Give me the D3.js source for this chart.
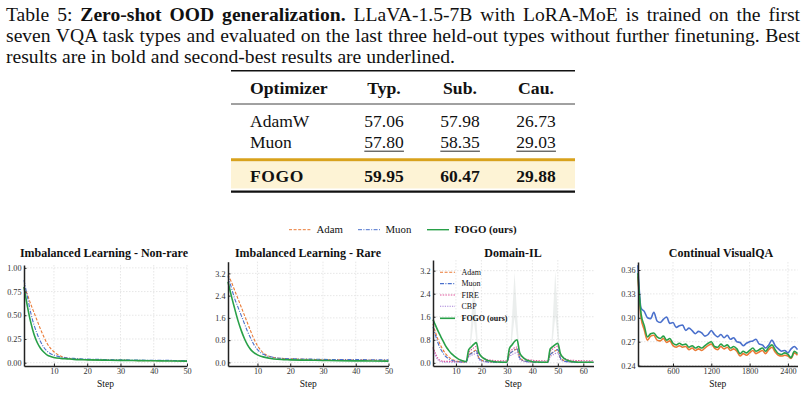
<!DOCTYPE html>
<html lang="en">
<head>
<meta charset="utf-8">
<title>Zero-shot OOD generalization</title>
<script src="https://d3js.org/d3.v7.min.js"></script>
<style>
    body{ margin:0; background:#fff; }
    svg text{ font-family:"Liberation Serif","Times New Roman",serif; fill:#111; }
    .grid line{ stroke:#dcdcdc; stroke-dasharray:1.5,1.5; stroke-width:0.7; }
    .axis path, .axis line{ stroke:#222; }
    .axis text{ font-size:8.2px; fill:#333; }
    .line{ fill:none; }
</style>
</head>
<body>
<svg id="fig" width="806" height="395"></svg>
<script>
// ---- table data ----
var tableCols = ['Optimizer', 'Typ.', 'Sub.', 'Cau.'];
var tableRows = ['AdamW', 'Muon', 'FOGO'];
var typVals = ['57.06', '57.80', '59.95'];
var subVals = ['57.98', '58.35', '60.47'];
var cauVals = ['26.73', '29.03', '29.88'];

// ---- imbalanced learning, non-rare ----
var nrSteps = [1,2,3,4,5,6,7,8,9,10,12,14,16,18,20,25,30,35,40,45,50];
var nrAdam  = [0.79,0.72,0.62,0.53,0.44,0.35,0.27,0.20,0.15,0.115,0.07,0.05,0.04,0.035,0.032,0.028,0.025,0.022,0.02,0.02,0.018];
var nrMuon  = [0.87,0.70,0.53,0.40,0.30,0.22,0.16,0.12,0.095,0.08,0.06,0.05,0.045,0.04,0.038,0.034,0.03,0.028,0.025,0.024,0.022];
var nrFogo  = [0.80,0.60,0.43,0.30,0.21,0.15,0.11,0.08,0.065,0.055,0.045,0.04,0.035,0.032,0.03,0.027,0.024,0.022,0.02,0.018,0.016];

// ---- imbalanced learning, rare ----
var rSteps = [1,2,3,4,5,6,7,8,9,10,11,12,14,16,18,20,25,30,35,40,45,50];
var rAdam  = [3.15,2.9,2.6,2.3,2.0,1.7,1.4,1.1,0.82,0.6,0.44,0.32,0.2,0.16,0.14,0.13,0.11,0.1,0.09,0.085,0.08,0.075];
var rMuon  = [3.1,2.7,2.3,2.0,1.7,1.4,1.1,0.85,0.62,0.46,0.35,0.28,0.2,0.16,0.14,0.13,0.12,0.11,0.1,0.1,0.095,0.09];
var rFogo  = [2.9,2.4,1.95,1.52,1.16,0.86,0.62,0.45,0.34,0.27,0.22,0.19,0.14,0.11,0.1,0.09,0.08,0.07,0.06,0.055,0.05,0.045];

// ---- domain-IL, steps 1..64 ----
var dSteps = d3.range(1, 65);
var dAdam = [1.35,1.05,0.80,0.60,0.44,0.31,0.22,0.15,0.10,0.07,0.05,0.04,0.03,0.03,
             0.28,0.34,0.40,0.44,0.18,0.10,0.06,0.05,0.04,0.03,0.03,0.03,0.02,0.02,0.02,0.02,
             0.30,0.38,0.44,0.48,0.19,0.10,0.06,0.05,0.04,0.03,0.03,0.03,0.02,0.02,0.02,0.02,
             0.28,0.36,0.42,0.46,0.18,0.10,0.06,0.05,0.04,0.03,0.03,0.03,0.02,0.02,0.02,0.02,0.02,0.02];
var dMuon = [1.25,0.95,0.68,0.48,0.33,0.22,0.15,0.10,0.07,0.05,0.04,0.03,0.03,0.02,
             0.25,0.32,0.38,0.42,0.16,0.09,0.06,0.04,0.03,0.03,0.02,0.02,0.02,0.02,0.02,0.02,
             0.30,0.38,0.45,0.48,0.18,0.10,0.06,0.04,0.03,0.03,0.02,0.02,0.02,0.02,0.02,0.02,
             0.28,0.36,0.42,0.46,0.17,0.09,0.05,0.04,0.03,0.03,0.02,0.02,0.02,0.02,0.02,0.02,0.02,0.02];
var dFire = [0.55,0.32,0.15,0.08,0.06,0.05,0.05,0.05,0.05,0.04,0.04,0.04,0.04,0.04,
             0.35,0.45,0.52,0.57,0.32,0.22,0.16,0.12,0.10,0.09,0.08,0.07,0.07,0.07,0.07,0.07,
             0.38,0.46,0.52,0.55,0.30,0.20,0.15,0.12,0.10,0.09,0.08,0.08,0.07,0.07,0.07,0.07,
             0.40,0.48,0.55,0.58,0.30,0.20,0.14,0.11,0.09,0.09,0.08,0.08,0.08,0.07,0.07,0.07,0.07,0.07];
var dCbp  = [0.50,0.25,0.10,0.05,0.03,0.02,0.02,0.02,0.02,0.02,0.02,0.02,0.02,0.02,
             0.20,0.26,0.30,0.33,0.12,0.06,0.04,0.03,0.02,0.02,0.02,0.02,0.02,0.02,0.02,0.02,
             0.22,0.28,0.33,0.36,0.13,0.06,0.04,0.03,0.02,0.02,0.02,0.02,0.02,0.02,0.02,0.02,
             0.21,0.27,0.32,0.35,0.12,0.06,0.04,0.03,0.02,0.02,0.02,0.02,0.02,0.02,0.02,0.02,0.02,0.02];
var dFogo = [1.50,1.30,1.10,0.92,0.75,0.58,0.45,0.34,0.26,0.19,0.13,0.09,0.06,0.04,
             0.45,0.55,0.64,0.70,0.35,0.22,0.15,0.10,0.07,0.05,0.04,0.03,0.03,0.02,0.02,0.02,
             0.50,0.62,0.74,0.80,0.36,0.22,0.14,0.09,0.06,0.04,0.03,0.03,0.02,0.02,0.02,0.02,
             0.48,0.56,0.63,0.68,0.32,0.19,0.12,0.08,0.05,0.04,0.03,0.02,0.02,0.02,0.02,0.02,0.02,0.02];
var spikeSteps = [17, 33, 49];
var spikeTops  = [3.0, 3.15, 3.2];

// ---- continual VisualQA ----
var vqSteps = d3.range(50, 2551, 50);
var vqAdam = [0.352,0.300,0.285,0.272,0.277,0.278,0.272,0.271,0.274,0.269,0.271,0.265,0.263,0.265,0.263,0.264,0.260,
              0.262,0.259,0.261,0.259,0.262,0.265,0.267,0.262,0.260,0.264,0.261,0.263,0.259,0.261,0.258,0.252,0.255,
              0.253,0.256,0.259,0.255,0.257,0.259,0.255,0.260,0.263,0.257,0.253,0.252,0.253,0.252,0.249,0.256,0.253];
var vqMuon = [0.366,0.312,0.308,0.300,0.299,0.307,0.296,0.294,0.298,0.301,0.293,0.294,0.288,0.290,0.291,0.284,0.287,
              0.284,0.280,0.283,0.281,0.277,0.279,0.284,0.279,0.276,0.279,0.275,0.278,0.273,0.275,0.270,0.269,0.265,
              0.268,0.270,0.271,0.273,0.267,0.266,0.262,0.266,0.272,0.265,0.261,0.258,0.259,0.256,0.261,0.264,0.260];
var vqFogo = [0.356,0.305,0.290,0.276,0.280,0.281,0.276,0.274,0.277,0.272,0.274,0.268,0.266,0.268,0.266,0.267,0.263,
              0.265,0.262,0.264,0.262,0.265,0.268,0.270,0.264,0.263,0.267,0.264,0.266,0.262,0.264,0.261,0.255,0.258,
              0.256,0.259,0.262,0.258,0.260,0.262,0.258,0.263,0.266,0.260,0.255,0.254,0.256,0.254,0.250,0.258,0.255];

var colors = {adam:'#ea7a35', muon:'#4a70cc', fire:'#e0559c', cbp:'#a680d8', fogo:'#28a048'};
var dashes = {adam:'3,1.6', muon:'4,1.4,1,1.4', fire:'1.5,1.2', cbp:'1.2,1.2', fogo:null};

var svg = d3.select('#fig');

// ---------- caption ----------
var capLines = [
    [['Table 5: ', false], ['Zero-shot OOD generalization.', true], [' LLaVA-1.5-7B with LoRA-MoE is trained on the first', false]],
    [['seven VQA task types and evaluated on the last three held-out types without further finetuning. Best', false]],
    [['results are in bold and second-best results are underlined.', false]]
];
var capY = [20.5, 41.8, 62.8];
capLines.forEach(function(parts, i){
    var t = svg.append('text')
        .attr('x', 6).attr('y', capY[i])
        .style('font-size', '19.6px');
    parts.forEach(function(p){
        t.append('tspan').text(p[0]).style('font-weight', p[1] ? 'bold' : 'normal');
    });
    if (i < 2){
        // justify the full lines to the text block width
        var full = parts.map(p => p[0]).join('');
        var spaces = full.split(' ').length - 1;
        var w = t.node().getComputedTextLength();
        t.attr('word-spacing', (794 - w) / spaces);
    }
});

// ---------- table ----------
var colX = [250, 384, 460, 536];
var tbl = svg.append('g');
tbl.append('rect').attr('x', 231).attr('y', 161.5).attr('width', 344).attr('height', 27).attr('fill', '#fdf3d5');
tbl.append('line').attr('x1', 231).attr('x2', 575).attr('y1', 70.7).attr('y2', 70.7).attr('stroke', '#111').attr('stroke-width', 1.4);
tbl.append('line').attr('x1', 231).attr('x2', 575).attr('y1', 104).attr('y2', 104).attr('stroke', '#111').attr('stroke-width', 0.8);
tbl.append('line').attr('x1', 231).attr('x2', 575).attr('y1', 159.7).attr('y2', 159.7).attr('stroke', '#d8a21c').attr('stroke-width', 3);
tbl.append('line').attr('x1', 231).attr('x2', 575).attr('y1', 191.6).attr('y2', 191.6).attr('stroke', '#111').attr('stroke-width', 2.2);

tableCols.forEach(function(c, j){
    tbl.append('text').text(c)
        .attr('x', colX[j]).attr('y', 93.8)
        .attr('text-anchor', j === 0 ? 'start' : 'middle')
        .style('font-size', '17.7px').style('font-weight', 'bold');
});
var rowY = [126.8, 148.3, 182.2];
tableRows.forEach(function(r, i){
    var vals = [r, typVals[i], subVals[i], cauVals[i]];
    vals.forEach(function(v, j){
        var t = tbl.append('text').text(v)
            .attr('x', colX[j]).attr('y', rowY[i])
            .attr('text-anchor', j === 0 ? 'start' : 'middle')
            .style('font-size', '17.5px')
            .style('font-weight', i === 2 ? 'bold' : 'normal')
            .style('letter-spacing', i === 2 && j === 0 ? '0.6px' : null);
        if (i === 1 && j > 0){
            var bb = t.node().getBBox();
            tbl.append('line').attr('x1', bb.x).attr('x2', bb.x + bb.width)
                .attr('y1', 151.2).attr('y2', 151.2).attr('stroke', '#111').attr('stroke-width', 0.9);
        }
    });
});

// ---------- top legend ----------
var topLeg = [
    {name:'Adam', key:'adam', x:289},
    {name:'Muon', key:'muon', x:358},
    {name:'FOGO (ours)', key:'fogo', x:427}
];
topLeg.forEach(function(d){
    svg.append('line').attr('x1', d.x).attr('x2', d.x + 22).attr('y1', 229.7).attr('y2', 229.7)
        .attr('stroke', colors[d.key]).attr('stroke-width', d.key === 'fogo' ? 1.4 : 1)
        .attr('stroke-dasharray', dashes[d.key]);
    svg.append('text').text(d.name).attr('x', d.x + 27.5).attr('y', 233.4)
        .style('font-size', '10.8px').style('font-weight', d.key === 'fogo' ? 'bold' : 'normal');
});

// ---------- panels ----------
function panel(cfg){
    var g = svg.append('g');
    var x = d3.scaleLinear().domain(cfg.xDom).range(cfg.xRange);
    var y = d3.scaleLinear().domain(cfg.yDom).range([366, cfg.top]);

    var grid = g.append('g').attr('class', 'grid');
    grid.selectAll('.gx').data(cfg.xTicks).enter().append('line')
        .attr('x1', d => x(d)).attr('x2', d => x(d)).attr('y1', cfg.top).attr('y2', 366);
    grid.selectAll('.gy').data(cfg.yTicks).enter().append('line')
        .attr('x1', cfg.xRange[0]).attr('x2', cfg.xRange[1]).attr('y1', d => y(d)).attr('y2', d => y(d));

    g.append('text').text(cfg.title)
        .attr('x', cfg.titleX).attr('y', 257)
        .attr('text-anchor', 'middle')
        .style('font-size', '12px').style('font-weight', 'bold');
    g.append('text').text('Step')
        .attr('x', (cfg.xRange[0] + cfg.xRange[1]) / 2).attr('y', 387)
        .attr('text-anchor', 'middle').style('font-size', '9.5px');

    if (cfg.before) cfg.before(g, x, y);

    cfg.series.forEach(function(s){
        var line = d3.line().x((d, i) => x(s.steps[i])).y(d => y(d)).curve(d3.curveMonotoneX);
        g.append('path').attr('class', 'line')
            .attr('d', line(s.values))
            .attr('stroke', colors[s.key])
            .attr('stroke-width', s.width || 1.1)
            .attr('stroke-dasharray', s.dash ? dashes[s.key] : null);
    });

    g.append('g').attr('class', 'axis')
        .attr('transform', 'translate(0,366)')
        .call(d3.axisBottom(x).tickValues(cfg.xTicks).tickFormat(d3.format('d')).tickSizeInner(-2.5).tickSizeOuter(0).tickPadding(2.5))
        .call(a => a.select('.domain').attr('stroke-width', 1.5));
    g.append('g').attr('class', 'axis')
        .attr('transform', 'translate(' + cfg.xRange[0] + ',0)')
        .call(d3.axisLeft(y).tickValues(cfg.yTicks).tickFormat(d3.format(cfg.yFmt)).tickSizeInner(-2.5).tickSizeOuter(0).tickPadding(2.5))
        .call(a => a.select('.domain').attr('stroke-width', 1.5));
    return {g:g, x:x, y:y};
}

panel({
    title:'Imbalanced Learning - Non-rare', titleX:104,
    xDom:[1, 50], xRange:[24, 187], yDom:[-0.035, 1.03], top:265,
    xTicks:[10,20,30,40,50], yTicks:[0,0.25,0.5,0.75,1.0], yFmt:'.2f',
    series:[
        {key:'adam', steps:nrSteps, values:nrAdam, dash:true},
        {key:'muon', steps:nrSteps, values:nrMuon, dash:true},
        {key:'fogo', steps:nrSteps, values:nrFogo, width:1.6}
    ]
});

panel({
    title:'Imbalanced Learning - Rare', titleX:308,
    xDom:[1, 50], xRange:[228, 388.5], yDom:[-0.13, 3.62], top:261.7,
    xTicks:[10,20,30,40,50], yTicks:[0,0.8,1.6,2.4,3.2], yFmt:'.1f',
    series:[
        {key:'adam', steps:rSteps, values:rAdam, dash:true},
        {key:'muon', steps:rSteps, values:rMuon, dash:true},
        {key:'fogo', steps:rSteps, values:rFogo, width:1.6}
    ]
});

var dil = panel({
    title:'Domain-IL', titleX:513,
    xDom:[1, 64], xRange:[433, 593.5], yDom:[-0.11, 3.57], top:260,
    xTicks:[10,20,30,40,50,60], yTicks:[0,0.8,1.6,2.4,3.2], yFmt:'.1f',
    before:function(g, x, y){
        // faint spread of the FOGO runs around each task switch
        spikeSteps.forEach(function(s, k){
            var pts = [[s - 1.6, dFogo[s - 2]], [s, spikeTops[k]], [s + 1.6, dFogo[s]]];
            var area = d3.area().x(d => x(d[0])).y0(d => y(d[1] * 0.5)).y1(d => y(d[1]));
            g.append('path').attr('d', area(pts)).attr('fill', '#a3b1ab').attr('opacity', 0.22);
        });
    },
    series:[
        {key:'cbp',  steps:dSteps, values:dCbp, dash:true},
        {key:'fire', steps:dSteps, values:dFire, dash:true},
        {key:'adam', steps:dSteps, values:dAdam, dash:true},
        {key:'muon', steps:dSteps, values:dMuon, dash:true},
        {key:'fogo', steps:dSteps, values:dFogo, width:1.6}
    ]
});
var dLeg = [
    {name:'Adam', key:'adam', y:272.3},
    {name:'Muon', key:'muon', y:283.6},
    {name:'FIRE', key:'fire', y:295},
    {name:'CBP', key:'cbp', y:306.3},
    {name:'FOGO (ours)', key:'fogo', y:318.3}
];
dLeg.forEach(function(d){
    dil.g.append('line').attr('x1', 440).attr('x2', 455).attr('y1', d.y).attr('y2', d.y)
        .attr('stroke', colors[d.key]).attr('stroke-width', d.key === 'fogo' ? 1.6 : 1.1)
        .attr('stroke-dasharray', dashes[d.key]);
    dil.g.append('text').text(d.name).attr('x', 461.5).attr('y', d.y + 2.8)
        .style('font-size', '8px').style('font-weight', d.key === 'fogo' ? 'bold' : 'normal');
});

panel({
    title:'Continual VisualQA', titleX:721,
    xDom:[52, 2550], xRange:[638, 797.5], yDom:[0.2395, 0.37], top:262,
    xTicks:[600,1200,1800,2400], yTicks:[0.24,0.27,0.30,0.33,0.36], yFmt:'.2f',
    series:[
        {key:'adam', steps:vqSteps, values:vqAdam, width:1.6},
        {key:'muon', steps:vqSteps, values:vqMuon, width:1.6},
        {key:'fogo', steps:vqSteps, values:vqFogo, width:1.6}
    ]
});
</script>
</body>
</html>
